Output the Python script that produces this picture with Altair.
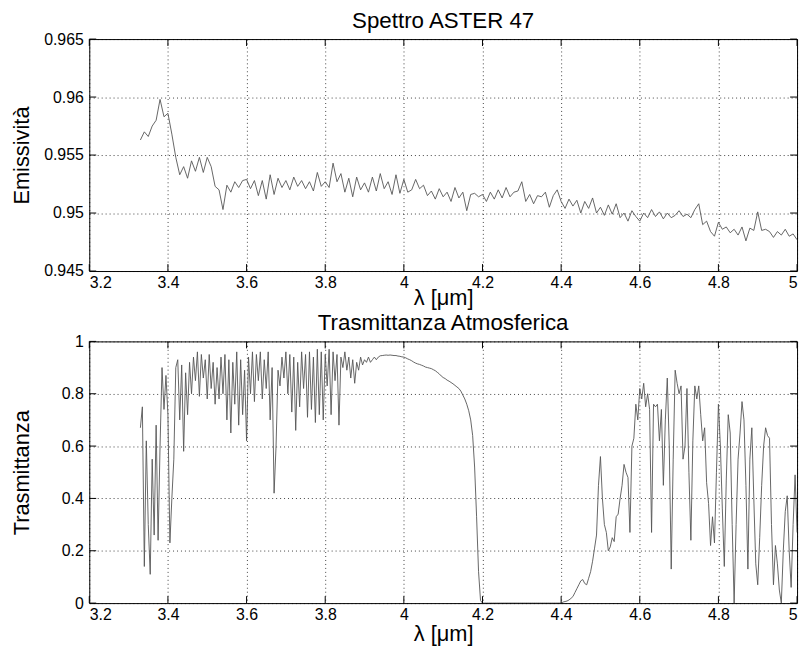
import altair as alt
import numpy as np
import pandas as pd

# ---------------- data ----------------
EMIS_START, EMIS_STEP = 3.33, 0.01
EMISSIVITY = [
    0.9563, 0.9570, 0.9566, 0.9575, 0.9580, 0.9598, 0.9583, 0.9586, 0.9568, 0.9548,
    0.9533, 0.9540, 0.9530, 0.9545, 0.9536, 0.9548, 0.9535, 0.9548, 0.9540, 0.9523,
    0.9520, 0.9503, 0.9524, 0.9518, 0.9527, 0.9522, 0.9528, 0.9529, 0.9521, 0.9528,
    0.9515, 0.9528, 0.9512, 0.9533, 0.9516, 0.9530, 0.9522, 0.9528, 0.9520, 0.9531,
    0.9523, 0.9528, 0.9521, 0.9527, 0.9519, 0.9535, 0.9523, 0.9527, 0.9522, 0.9543,
    0.9527, 0.9534, 0.9518, 0.9530, 0.9514, 0.9531, 0.9520, 0.9526, 0.9518, 0.9531,
    0.9519, 0.9534, 0.9521, 0.9527, 0.9516, 0.9533, 0.9517, 0.9529, 0.9518, 0.9520,
    0.9529, 0.9521, 0.9524, 0.9515, 0.9519, 0.9512, 0.9521, 0.9514, 0.9518, 0.9510,
    0.9522, 0.9513, 0.9518, 0.9502, 0.9516, 0.9517, 0.9514, 0.9516, 0.9510, 0.9518,
    0.9512, 0.9520, 0.9513, 0.9522, 0.9514, 0.9518, 0.9519, 0.9527, 0.9510, 0.9516,
    0.9508, 0.9515, 0.9514, 0.9518, 0.9505, 0.9515, 0.9520, 0.9510, 0.9504, 0.9512,
    0.9506, 0.9511, 0.9500, 0.9510, 0.9504, 0.9513, 0.9500, 0.9505, 0.9498, 0.9507,
    0.9499, 0.9508, 0.9496, 0.9500, 0.9493, 0.9502, 0.9497, 0.9493, 0.9500, 0.9496,
    0.9503, 0.9497, 0.9501, 0.9495, 0.9500, 0.9496, 0.9498, 0.9502, 0.9497, 0.9499,
    0.9496, 0.9503, 0.9508, 0.9490, 0.9493, 0.9484, 0.9480, 0.9492, 0.9486, 0.9488,
    0.9483, 0.9486, 0.9481, 0.9488, 0.9476, 0.9487, 0.9485, 0.9501, 0.9485, 0.9486,
    0.9484, 0.9479, 0.9484, 0.9481, 0.9486, 0.9480, 0.9482, 0.9477,
]

TRANS_START, TRANS_STEP = 3.33, 0.005
TRANSMITTANCE = [
    0.67, 0.75, 0.14, 0.62, 0.30, 0.11, 0.55, 0.26, 0.68, 0.24,
    0.60, 0.90, 0.74, 0.87, 0.72, 0.23, 0.40, 0.55, 0.90, 0.93,
    0.70, 0.91, 0.58, 0.88, 0.72, 0.92, 0.80, 0.94, 0.85, 0.96,
    0.79, 0.95, 0.86, 0.93, 0.78, 0.95, 0.82, 0.92, 0.76, 0.90,
    0.78, 0.94, 0.80, 0.95, 0.70, 0.93, 0.65, 0.92, 0.76, 0.96,
    0.68, 0.93, 0.72, 0.89, 0.62, 0.94, 0.80, 0.96, 0.77, 0.95,
    0.85, 0.96, 0.78, 0.93, 0.82, 0.96, 0.70, 0.90, 0.42, 0.60,
    0.89, 0.83, 0.94, 0.86, 0.96, 0.80, 0.95, 0.73, 0.94, 0.66,
    0.92, 0.75, 0.96, 0.82, 0.95, 0.71, 0.96, 0.74, 0.94, 0.69,
    0.97, 0.72, 0.96, 0.70, 0.95, 0.83, 0.97, 0.72, 0.96, 0.85,
    0.95, 0.68, 0.94, 0.90, 0.96, 0.89, 0.94, 0.86, 0.93, 0.84,
    0.92, 0.89, 0.94, 0.91, 0.93, 0.92, 0.94, 0.92, 0.93, 0.94,
    0.93, 0.94, 0.945, 0.946, 0.947, 0.948, 0.947, 0.948, 0.947, 0.946,
    0.946, 0.944, 0.943, 0.941, 0.940, 0.937, 0.933, 0.930, 0.926, 0.921,
    0.917, 0.914, 0.912, 0.909, 0.906, 0.902, 0.900, 0.898, 0.896, 0.892,
    0.888, 0.882, 0.876, 0.868, 0.862, 0.858, 0.852, 0.848, 0.843, 0.838,
    0.832, 0.826, 0.820, 0.810, 0.795, 0.780, 0.760, 0.735, 0.700, 0.640,
    0.520, 0.330, 0.120, 0.010, 0.0, 0.0, 0.0, 0.0, 0.0, 0.0,
    0.0, 0.0, 0.0, 0.0, 0.0, 0.0, 0.0, 0.0, 0.0, 0.0,
    0.0, 0.0, 0.0, 0.0, 0.0, 0.0, 0.0, 0.0, 0.0, 0.0,
    0.0, 0.0, 0.0, 0.0, 0.0, 0.0, 0.0, 0.0, 0.0, 0.0,
    0.0, 0.0, 0.0, 0.0, 0.0, 0.004, 0.006, 0.008, 0.012, 0.018,
    0.025, 0.040, 0.055, 0.070, 0.085, 0.090, 0.075, 0.070, 0.095, 0.120,
    0.160, 0.210, 0.260, 0.450, 0.560, 0.400, 0.300, 0.270, 0.200, 0.215,
    0.250, 0.235, 0.330, 0.340, 0.400, 0.450, 0.530, 0.500, 0.480, 0.270,
    0.600, 0.630, 0.760, 0.700, 0.820, 0.780, 0.840, 0.750, 0.800, 0.740,
    0.270, 0.760, 0.750, 0.760, 0.620, 0.740, 0.450, 0.700, 0.860, 0.600,
    0.130, 0.550, 0.890, 0.840, 0.800, 0.830, 0.550, 0.600, 0.820, 0.500,
    0.240, 0.620, 0.830, 0.780, 0.830, 0.720, 0.620, 0.670, 0.460, 0.380,
    0.220, 0.330, 0.230, 0.500, 0.760, 0.600, 0.360, 0.140, 0.470, 0.720,
    0.650, 0.300, 0.000, 0.300, 0.550, 0.650, 0.770, 0.700, 0.450, 0.130,
    0.550, 0.670, 0.400, 0.150, 0.070, 0.250, 0.450, 0.600, 0.670, 0.640,
    0.630, 0.300, 0.070, 0.220, 0.150, 0.050, 0.000, 0.200, 0.350, 0.410,
    0.200, 0.060, 0.300, 0.490, 0.270,
]

X_TICKS = [3.2, 3.4, 3.6, 3.8, 4, 4.2, 4.4, 4.6, 4.8, 5]
Y1_TICKS = [0.945, 0.95, 0.955, 0.96, 0.965]
Y2_TICKS = [0, 0.2, 0.4, 0.6, 0.8, 1]

TITLE_TOP = "Spettro ASTER 47"
TITLE_BOTTOM = "Trasmittanza Atmosferica"
X_TITLE = "λ [μm]"
Y1_TITLE = "Emissività"
Y2_TITLE = "Trasmittanza"

# ---------------- tables ----------------
emis_df = pd.DataFrame({
    "lam": np.round(EMIS_START + EMIS_STEP * np.arange(len(EMISSIVITY)), 4),
    "val": EMISSIVITY,
})
trans_df = pd.DataFrame({
    "lam": np.round(TRANS_START + TRANS_STEP * np.arange(len(TRANSMITTANCE)), 4),
    "val": TRANSMITTANCE,
})
xt_df = pd.DataFrame({"lam": X_TICKS})

W = 714
H1, H2 = 234, 264
FONT = "Liberation Sans"
TICK = 7
LINE_COLOR = "#555555"
TITLE_FS = 22.5


def panel(df, yticks, ydomain, ytitle, title, H, title_gap, xtitle_y):
    x_scale = alt.Scale(domain=[X_TICKS[0], X_TICKS[-1]], nice=False, zero=False)
    y_scale = alt.Scale(domain=ydomain, nice=False, zero=False)
    x_axis = alt.Axis(values=X_TICKS, title=X_TITLE, labelExpr="'' + datum.value",
                      titleY=xtitle_y, titleBaseline="bottom")
    y_axis = alt.Axis(values=yticks, title=ytitle, labelExpr="'' + datum.value",
                      titleX=-61, titleY=H / 2, titleAngle=270,
                      titleBaseline="alphabetic", titleAlign="center")
    X = alt.X("lam:Q", scale=x_scale, axis=x_axis)
    Y = alt.Y("val:Q", scale=y_scale, axis=y_axis)

    line = alt.Chart(df).mark_line(color=LINE_COLOR, strokeWidth=0.9, clip=True).encode(
        x=X, y=Y)
    yt_df = pd.DataFrame({"val": yticks})
    xb = alt.Chart(xt_df).mark_rule(color="black", strokeWidth=1).encode(
        x=X, y=alt.value(H), y2=alt.value(H - TICK))
    xtp = alt.Chart(xt_df).mark_rule(color="black", strokeWidth=1).encode(
        x=X, y=alt.value(0), y2=alt.value(TICK))
    yl = alt.Chart(yt_df).mark_rule(color="black", strokeWidth=1).encode(
        y=Y, x=alt.value(0), x2=alt.value(TICK))
    yr = alt.Chart(yt_df).mark_rule(color="black", strokeWidth=1).encode(
        y=Y, x=alt.value(W - TICK), x2=alt.value(W))
    ttl = alt.Chart(pd.DataFrame({"t": [title]})).mark_text(
        font=FONT, fontSize=TITLE_FS, color="black", align="center", baseline="top"
    ).encode(text="t:N", x=alt.value(W / 2), y=alt.value(-(title_gap + 0.79 * TITLE_FS)))
    return alt.layer(line, xb, xtp, yl, yr, ttl).properties(width=W, height=H)


top = panel(emis_df, Y1_TICKS, [0.945, 0.965], Y1_TITLE, TITLE_TOP, H1, 11.5, 39)
bottom = panel(trans_df, Y2_TICKS, [0, 1], Y2_TITLE, TITLE_BOTTOM, H2, 12, 43)

chart = alt.vconcat(top, bottom, spacing=1).properties(
    padding={"left": 2, "top": -1.5, "right": 5, "bottom": 5},
    background="white",
).configure_view(
    stroke="black", strokeWidth=1
).configure_axis(
    labelFont=FONT, labelFontSize=16, labelColor="black",
    titleFont=FONT, titleFontSize=22, titleFontWeight="normal", titleColor="black",
    domain=False, ticks=False, labelPadding=6,
    grid=True, gridColor="black", gridDash=[1, 3], gridWidth=1, gridOpacity=0.75,
).configure_axisX(labelPadding=4)

chart.save("out.html", embed_options={"renderer": "svg", "actions": False})
